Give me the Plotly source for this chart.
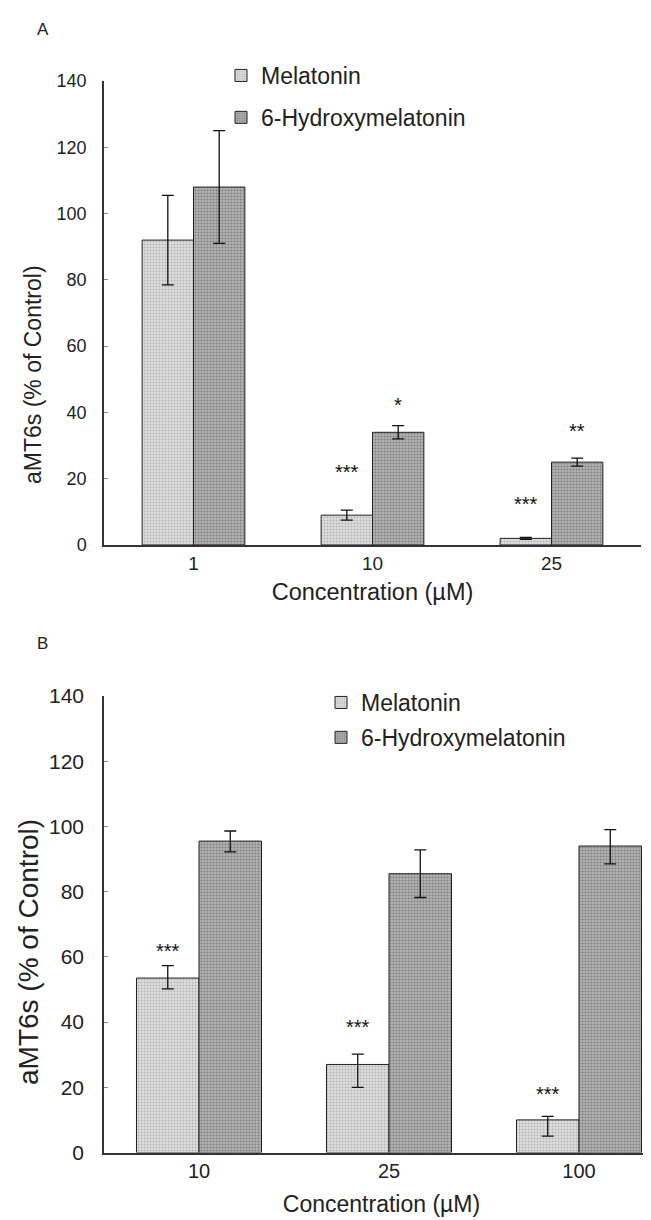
import plotly.graph_objects as go

# ---------------- data ----------------
conc_A = ["1", "10", "25"]
mel_A = [92, 9, 2]
mel_A_err = [13.5, 1.5, 0.3]
oh_A = [108, 34, 25]
oh_A_err = [17, 2, 1.2]
sig_A_mel = ["", "***", "***"]
sig_A_mel_y = [None, 23.5, 13.9]
sig_A_oh = ["", "*", "**"]
sig_A_oh_y = [None, 43.9, 35.8]

conc_B = ["10", "25", "100"]
mel_B = [53.5, 27, 10]
mel_B_err_plus = [3.8, 3.2, 1.1]
mel_B_err_minus = [3.3, 7, 5]
oh_B = [95.5, 85.5, 94]
oh_B_err_plus = [3.1, 7.3, 5]
oh_B_err_minus = [3.3, 7.3, 5.5]
sig_B_mel = ["***", "***", "***"]
sig_B_mel_y = [63.4, 40, 19.5]

y_ticks = [0, 20, 40, 60, 80, 100, 120, 140]

# ---------------- styling ----------------
W, H = 651, 1220
FONT = "Liberation Sans, Arial, sans-serif"
MEL_STYLE = dict(color="#dedede", line=dict(color="#222", width=1),
                 pattern=dict(shape=".", fgcolor="#8a8a8a", size=3, solidity=0.35))
OH_STYLE = dict(color="#b4b4b4", line=dict(color="#222", width=1),
                pattern=dict(shape=".", fgcolor="#4a4a4a", size=3, solidity=0.4))
WA = 0.287  # bar width (category units), panel A
WB = 0.329  # bar width, panel B


def px(xp):
    return xp / W


def py(yp):
    return 1 - yp / H


fig = go.Figure()

# Panel A
fig.add_trace(go.Bar(x=conc_A, y=mel_A, name="Melatonin", marker=MEL_STYLE,
                     width=WA, offset=-WA,
                     error_y=dict(type="data", array=mel_A_err, color="#111", thickness=1.3, width=6),
                     xaxis="x", yaxis="y", legend="legend", legendgroup="a1"))
fig.add_trace(go.Bar(x=conc_A, y=oh_A, name="6-Hydroxymelatonin", marker=OH_STYLE,
                     width=WA, offset=0,
                     error_y=dict(type="data", array=oh_A_err, color="#111", thickness=1.3, width=6),
                     xaxis="x", yaxis="y", legend="legend", legendgroup="a2"))

# Panel B
fig.add_trace(go.Bar(x=conc_B, y=mel_B, name="Melatonin", marker=MEL_STYLE,
                     width=WB, offset=-WB,
                     error_y=dict(type="data", symmetric=False, array=mel_B_err_plus,
                                  arrayminus=mel_B_err_minus, color="#111", thickness=1.3, width=6),
                     xaxis="x2", yaxis="y2", legend="legend2", legendgroup="b1"))
fig.add_trace(go.Bar(x=conc_B, y=oh_B, name="6-Hydroxymelatonin", marker=OH_STYLE,
                     width=WB, offset=0,
                     error_y=dict(type="data", symmetric=False, array=oh_B_err_plus,
                                  arrayminus=oh_B_err_minus, color="#111", thickness=1.3, width=6),
                     xaxis="x2", yaxis="y2", legend="legend2", legendgroup="b2"))

annotations = []
shiftA = WA * 179 / 2
shiftB = WB * 190 / 2
STAR_FONT = dict(size=20, color="#111", family=FONT)
for i, (s, yv) in enumerate(zip(sig_A_mel, sig_A_mel_y)):
    if s:
        annotations.append(dict(x=i, y=yv, xref="x", yref="y", text=s, showarrow=False,
                                xshift=-shiftA, yshift=-5, font=STAR_FONT))
for i, (s, yv) in enumerate(zip(sig_A_oh, sig_A_oh_y)):
    if s:
        annotations.append(dict(x=i, y=yv, xref="x", yref="y", text=s, showarrow=False,
                                xshift=shiftA, yshift=-5, font=STAR_FONT))
for i, (s, yv) in enumerate(zip(sig_B_mel, sig_B_mel_y)):
    if s:
        annotations.append(dict(x=i, y=yv, xref="x2", yref="y2", text=s, showarrow=False,
                                xshift=-shiftB, yshift=-5, font=STAR_FONT))

CENTER = dict(xanchor="center", yanchor="middle", xref="paper", yref="paper", showarrow=False)
# panel letters
annotations.append(dict(x=px(35), y=py(22), text="A", font=dict(size=17, color="#222", family=FONT), **CENTER))
annotations.append(dict(x=px(34), y=py(635), text="B", font=dict(size=17, color="#222", family=FONT), **CENTER))
# y-axis titles
annotations.append(dict(x=px(25), y=py(367), text="aMT6s (% of Control)", textangle=-90,
                        font=dict(size=23, color="#222", family=FONT), **CENTER))
annotations.append(dict(x=px(20), y=py(944), text="aMT6s (% of Control)", textangle=-90,
                        font=dict(size=28, color="#222", family=FONT), **CENTER))

axis_common = dict(showgrid=False, zeroline=False, showline=True, linecolor="#333", linewidth=1.5,
                   automargin=False)

fig.update_layout(
    width=W, height=H,
    margin=dict(l=0, r=0, t=0, b=0),
    paper_bgcolor="white", plot_bgcolor="white",
    barmode="overlay",
    font=dict(family=FONT, color="#222"),
    xaxis=dict(domain=[px(96), px(633)], anchor="y", type="category", range=[-0.5, 2.5],
               ticks="", tickfont=dict(size=19, color="#222"),
               title=dict(text="Concentration (µM)", font=dict(size=23.5, color="#222"), standoff=11),
               **axis_common),
    yaxis=dict(domain=[py(537), py(73)], anchor="x", range=[0, 140], tickvals=y_ticks,
               ticks="inside", ticklen=4, tickcolor="#888", ticklabelstandoff=12,
               tickfont=dict(size=18, color="#222"), **axis_common),
    xaxis2=dict(domain=[px(96), 1.0], anchor="y2", type="category", range=[-0.5, 2.421],
                ticks="", tickfont=dict(size=20, color="#222"),
                title=dict(text="Concentration (µM)", font=dict(size=23, color="#222"), standoff=15),
                **axis_common),
    yaxis2=dict(domain=[py(1144.5), py(688)], anchor="x2", range=[0, 140], tickvals=y_ticks,
                ticks="inside", ticklen=4, tickcolor="#888", ticklabelstandoff=14,
                tickfont=dict(size=21, color="#222"), **axis_common),
    legend=dict(x=px(213), y=py(46), xanchor="left", yanchor="top", bgcolor="rgba(0,0,0,0)",
                font=dict(size=23, color="#222"), tracegroupgap=9, itemclick=False),
    legend2=dict(x=px(313), y=py(673), xanchor="left", yanchor="top", bgcolor="rgba(0,0,0,0)",
                 font=dict(size=23, color="#222"), tracegroupgap=2, itemclick=False),
    annotations=annotations,
)

fig.write_html("out.html")
